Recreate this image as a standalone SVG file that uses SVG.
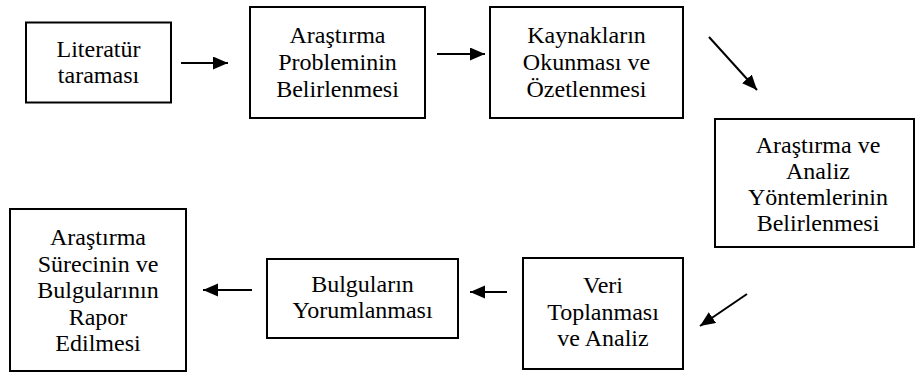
<svg xmlns="http://www.w3.org/2000/svg" width="917" height="374" viewBox="0 0 917 374">
  <style>
    .box { fill: #ffffff; stroke: #000000; stroke-width: 2; }
    .lbl { font-family: "Liberation Serif", "Times New Roman", serif; font-size: 24px; font-weight: normal; fill: #000000; text-anchor: middle; }
    .conn { stroke: #000000; stroke-width: 2; fill: none; marker-end: url(#arrow); }
  </style>
  <defs>
    <marker id="arrow" markerUnits="userSpaceOnUse" markerWidth="16" markerHeight="14" refX="15" refY="6.5" orient="auto">
      <path d="M0,0 L15,6.5 L0,13 Z" fill="#000000"/>
    </marker>
  </defs>
  <rect width="917" height="374" fill="#ffffff"/>

  <g id="n1">
    <rect class="box" x="26" y="22.5" width="145" height="80"/>
    <text class="lbl" x="98.5" y="57">Literatür</text>
    <text class="lbl" x="98.5" y="83">taraması</text>
  </g>
  <g id="n2">
    <rect class="box" x="250" y="7" width="175" height="111"/>
    <text class="lbl" x="337.5" y="43">Araştırma</text>
    <text class="lbl" x="337.5" y="70">Probleminin</text>
    <text class="lbl" x="337.5" y="96.5">Belirlenmesi</text>
  </g>
  <g id="n3">
    <rect class="box" x="490" y="7" width="193" height="111"/>
    <text class="lbl" x="586.5" y="43">Kaynakların</text>
    <text class="lbl" x="586.5" y="70">Okunması ve</text>
    <text class="lbl" x="586.5" y="96.5">Özetlenmesi</text>
  </g>
  <g id="n4">
    <rect class="box" x="715" y="119" width="199" height="128"/>
    <text class="lbl" x="818" y="152.5">Araştırma ve</text>
    <text class="lbl" x="818" y="178.5">Analiz</text>
    <text class="lbl" x="818" y="204.5">Yöntemlerinin</text>
    <text class="lbl" x="818" y="230.5">Belirlenmesi</text>
  </g>
  <g id="n5">
    <rect class="box" x="523" y="258" width="160" height="111"/>
    <text class="lbl" x="603" y="293">Veri</text>
    <text class="lbl" x="603" y="320">Toplanması</text>
    <text class="lbl" x="603" y="346">ve Analiz</text>
  </g>
  <g id="n6">
    <rect class="box" x="267" y="259" width="191" height="79"/>
    <text class="lbl" x="362.5" y="292">Bulguların</text>
    <text class="lbl" x="362.5" y="318">Yorumlanması</text>
  </g>
  <g id="n7">
    <rect class="box" x="10" y="209" width="176" height="162"/>
    <text class="lbl" x="98" y="245">Araştırma</text>
    <text class="lbl" x="98" y="271.5">Sürecinin ve</text>
    <text class="lbl" x="98" y="298">Bulgularının</text>
    <text class="lbl" x="98" y="324.5">Rapor</text>
    <text class="lbl" x="98" y="351">Edilmesi</text>
  </g>

  <g id="connectors">
    <line class="conn" x1="181" y1="63" x2="228" y2="63"/>
    <line class="conn" x1="437" y1="54" x2="485" y2="54"/>
    <line class="conn" x1="709" y1="37" x2="757" y2="90"/>
    <line class="conn" x1="747" y1="294" x2="700" y2="326"/>
    <line class="conn" x1="507" y1="292" x2="470" y2="292"/>
    <line class="conn" x1="252" y1="290" x2="203" y2="290"/>
  </g>
</svg>
